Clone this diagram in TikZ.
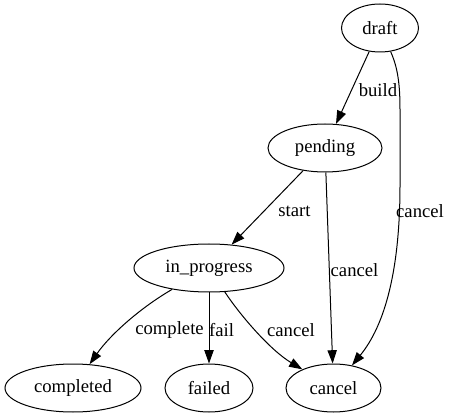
\documentclass[tikz,border=0pt]{standalone}
\usepackage{fontspec}
\setmainfont{Liberation Serif}
\usetikzlibrary{shapes.geometric,arrows.meta}
\begin{document}
\begin{tikzpicture}[x=1pt,y=-1pt,
  st/.style={draw,ellipse,inner sep=0pt,minimum height=48pt,font=\fontsize{18.67}{22}\selectfont,line width=1pt},
  lbl/.style={font=\fontsize{18.67}{22}\selectfont,inner sep=0pt},
  edge/.style={draw,line width=1pt,-{Triangle[length=13.3pt,width=9.3pt]}}]
\useasboundingbox (0,0) rectangle (452,419);
\node[st,minimum width=77pt]  (draft)     at (380,28)    {draft};
\node[st,minimum width=114pt] (pending)   at (325,148)   {pending};
\node[st,minimum width=150pt] (inprog)    at (209,268)   {in\_progress};
\node[st,minimum width=136pt] (completed) at (73,388)    {completed};
\node[st,minimum width=88pt]  (failed)    at (209,388)   {failed};
\node[st,minimum width=95pt]  (cancel)    at (333.5,388) {cancel};

\coordinate (d1) at (400,110);
\coordinate (d2) at (400,185);

\draw[edge] (draft) -- (pending);
\draw[edge] (pending) -- (inprog);
\draw[edge] (pending) -- (cancel);
\draw[edge] (draft) .. controls (398,68) and (400,85) .. (d1) -- (d2)
  .. controls (400,270) and (385,325) .. (cancel);
\draw[edge] (inprog) .. controls (140,308) and (110,335) .. (completed);
\draw[edge] (inprog) -- (failed);
\draw[edge] (inprog) .. controls (240,315) and (270,350) .. (cancel);

\node[lbl] (lbuild)  at (378,90)    {build};
\node[lbl] (lstart)  at (294.5,211) {start};
\node[lbl] (lcan1)   at (420,211)   {cancel};
\node[lbl] (lcan2)   at (354.5,270) {cancel};
\node[lbl] (lcomp)   at (169.5,330) {complete};
\node[lbl] (lfail)   at (221.5,330) {fail};
\node[lbl] (lcan3)   at (291,330)   {cancel};
\end{tikzpicture}
\end{document}
